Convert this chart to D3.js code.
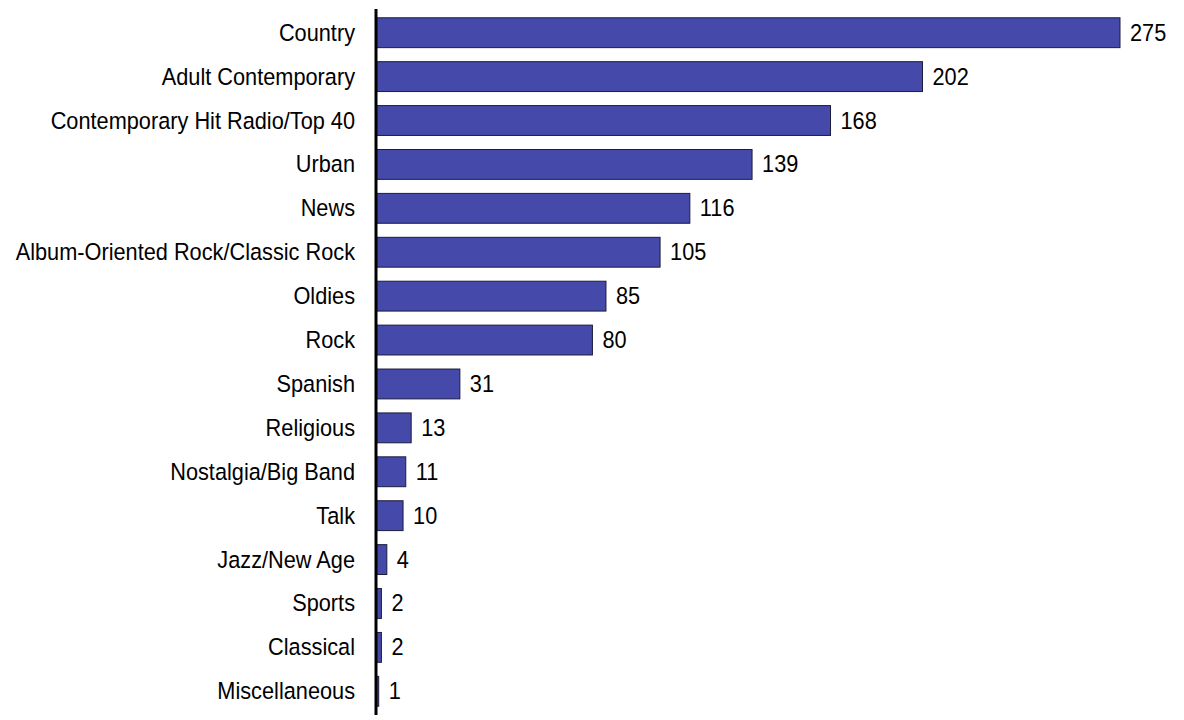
<!DOCTYPE html>
<html>
<head>
<meta charset="utf-8">
<script src="https://cdn.jsdelivr.net/npm/d3@7"></script>
<style>
  html, body { margin: 0; padding: 0; background: #fff; }
  svg { display: block; }
  text { font-family: "Liberation Sans", Arial, sans-serif; fill: #000; }
</style>
</head>
<body>
<svg id="chart" width="1184" height="720"></svg>
<script>
// Radio station formats and station counts
const formats = [
  "Country", "Adult Contemporary", "Contemporary Hit Radio/Top 40", "Urban",
  "News", "Album-Oriented Rock/Classic Rock", "Oldies", "Rock", "Spanish",
  "Religious", "Nostalgia/Big Band", "Talk", "Jazz/New Age", "Sports",
  "Classical", "Miscellaneous"
];
const stations = [275, 202, 168, 139, 116, 105, 85, 80, 31, 13, 11, 10, 4, 2, 2, 1];

const svg = d3.select("#chart");
const axisX = 376;
const fontSize = 23.5;
const squeeze = 0.925; // slightly condensed lettering

const x = d3.scaleLinear().domain([0, 275]).range([axisX, 1120]);
const y = d3.scaleBand().domain(formats).range([9, 715])
  .paddingInner(0.32).paddingOuter(0.2);

const rows = formats.map((f, i) => ({ format: f, value: stations[i] }));

// Bars
svg.append("g").selectAll("rect").data(rows).join("rect")
  .attr("x", axisX)
  .attr("y", d => y(d.format))
  .attr("width", d => x(d.value) - axisX)
  .attr("height", y.bandwidth())
  .attr("fill", "#4449aa")
  .attr("stroke", "#1c1c3c")
  .attr("stroke-width", 1);

// Value labels at bar ends
svg.append("g").selectAll("text").data(rows).join("text")
  .attr("transform", d => `translate(${x(d.value) + 10},${y(d.format) + y.bandwidth() / 2}) scale(${squeeze},1)`)
  .attr("dy", "0.34em")
  .attr("font-size", fontSize)
  .text(d => d.value);

// Category axis on the left
const pad = 21;
const yAxis = d3.axisLeft(y).tickSize(0).tickPadding(pad);
const ag = svg.append("g").attr("transform", `translate(${axisX},0)`).call(yAxis);
ag.select(".domain").remove();
ag.selectAll("text")
  .attr("font-size", fontSize)
  .attr("font-family", "'Liberation Sans', Arial, sans-serif")
  .attr("fill", "#000")
  .attr("dy", "0.34em")
  .attr("x", -pad / squeeze)
  .attr("transform", `scale(${squeeze},1)`);

// Vertical baseline
svg.append("line")
  .attr("x1", axisX).attr("x2", axisX)
  .attr("y1", 9).attr("y2", 715)
  .attr("stroke", "#000")
  .attr("stroke-width", 3);
</script>
</body>
</html>
